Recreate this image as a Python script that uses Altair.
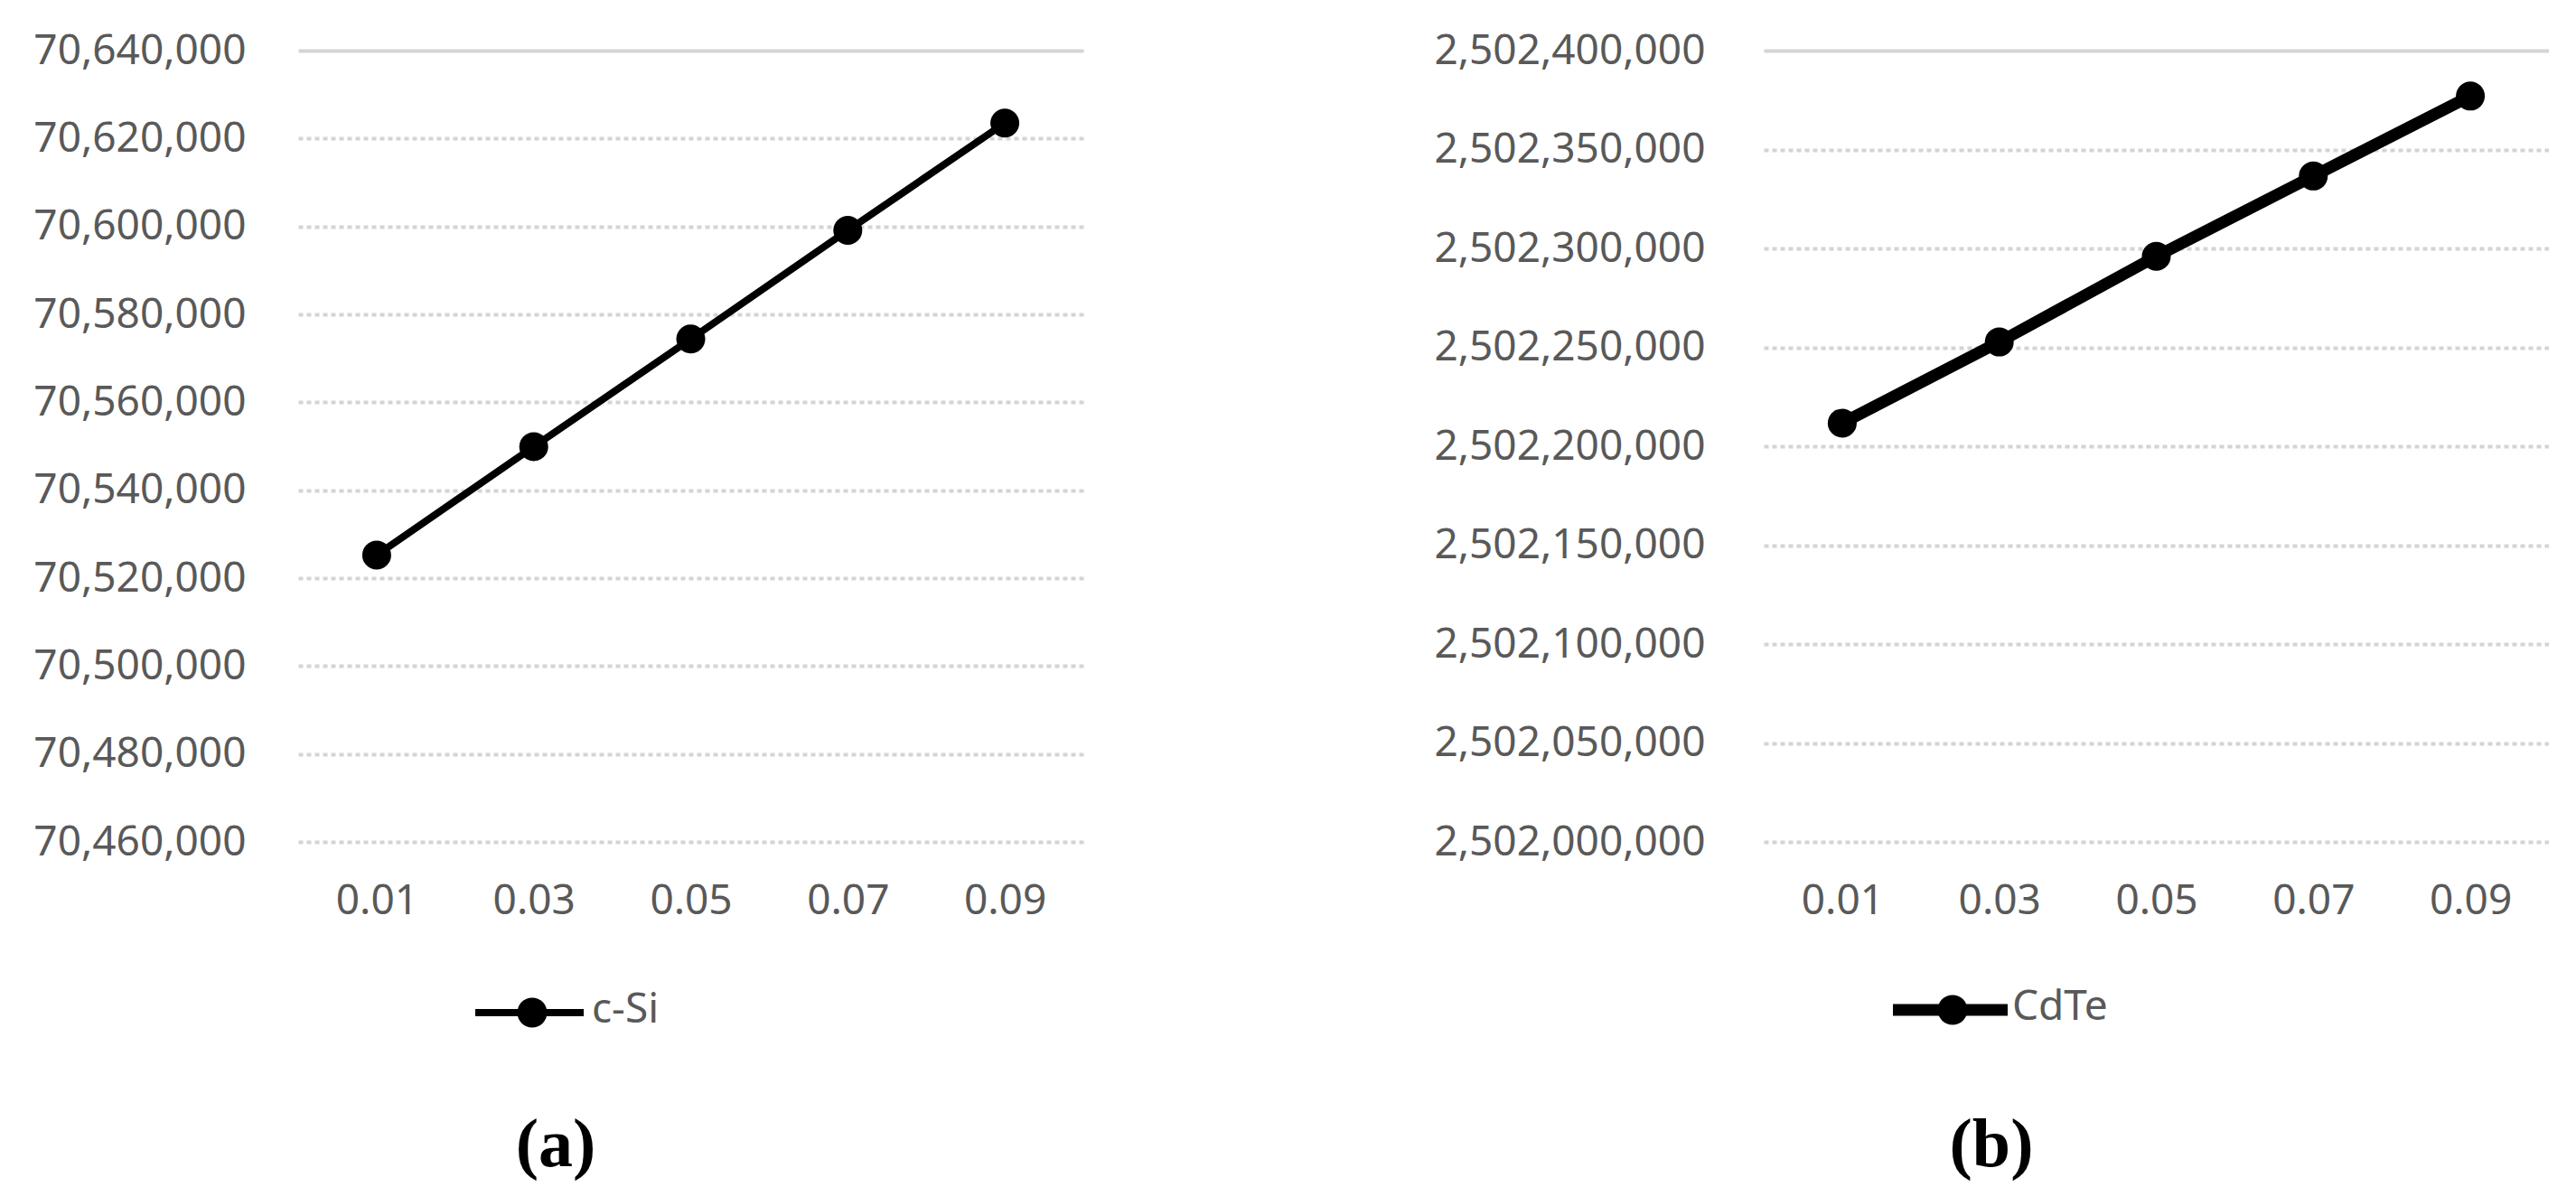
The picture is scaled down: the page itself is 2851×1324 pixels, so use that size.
import altair as alt
import pandas as pd

# ---- data ----
x_labels = ["0.01", "0.03", "0.05", "0.07", "0.09"]
csi_values = [70525250, 70549900, 70574400, 70599100, 70623500]
cdte_values = [2502211700, 2502252700, 2502296000, 2502336600, 2502377000]
csi_ticks = [70460000, 70480000, 70500000, 70520000, 70540000,
             70560000, 70580000, 70600000, 70620000, 70640000]
cdte_ticks = [2502000000, 2502050000, 2502100000, 2502150000, 2502200000,
              2502250000, 2502300000, 2502350000, 2502400000]
series_names = ["c-Si", "CdTe"]
panel_labels = ["(a)", "(b)"]

W, H = 869, 876
LABEL_FONT = "Noto Sans"
LABEL_COLOR = "#595959"
FS = 46


def panel(values, ticks, name, caption, line_w, label_pad, leg):
    df = pd.DataFrame({"x": x_labels, "y": values, "s": name})
    top = ticks[-1]
    x_enc = alt.X("x:N", sort=x_labels,
                  scale=alt.Scale(type="point", padding=0.5),
                  axis=alt.Axis(title=None, ticks=False, domain=False, grid=False,
                                labelAngle=0, labelFont=LABEL_FONT, labelFontSize=FS,
                                labelColor=LABEL_COLOR, labelPadding=43,
                                labelLimit=1000))
    y_enc = alt.Y("y:Q",
                  scale=alt.Scale(domain=[ticks[0], ticks[-1]], zero=False, nice=False),
                  axis=alt.Axis(title=None, ticks=False, domain=False, values=ticks,
                                format=",d", labelFont=LABEL_FONT, labelFontSize=FS,
                                labelColor=LABEL_COLOR, labelPadding=label_pad,
                                labelLimit=1000, labelOverlap=False,
                                gridColor="#d4d4d4", gridWidth=4,
                                gridDash={"condition": {"test": f"datum.value == {top}",
                                                        "value": []},
                                          "value": [5, 4]}))
    base = alt.Chart(df).encode(x=x_enc, y=y_enc)
    line = base.mark_line(color="black", strokeWidth=line_w)
    pts = base.mark_point(filled=True, color="black", size=1024, opacity=1)

    leg_df = pd.DataFrame({"s": [name], "c": [caption]})
    lb = alt.Chart(leg_df)
    leg_line = lb.mark_rule(color="black", strokeWidth=line_w).encode(
        x=alt.value(leg["x1"]), x2=alt.value(leg["x2"]), y=alt.value(leg["y"]))
    leg_pt = lb.mark_point(filled=True, color="black", size=1089, opacity=1).encode(
        x=alt.value(leg["px"]), y=alt.value(leg["y"]))
    leg_txt = lb.mark_text(align="left", baseline="middle", font=LABEL_FONT,
                           fontSize=FS, color=LABEL_COLOR).encode(
        x=alt.value(leg["tx"]), y=alt.value(leg["y"] - 3), text="s:N")
    cap = lb.mark_text(align="center", baseline="middle", font="Liberation Serif",
                       fontSize=76, fontWeight="bold", color="black").encode(
        x=alt.value(leg["cx"]), y=alt.value(1212), text="c:N")
    return alt.layer(line, pts, leg_line, leg_pt, leg_txt, cap).properties(
        width=W, height=H)


left = panel(csi_values, csi_ticks, series_names[0], panel_labels[0], 8, 58,
             {"x1": 196, "x2": 316, "y": 1065, "px": 259, "tx": 325, "cx": 285})
right = panel(cdte_values, cdte_ticks, series_names[1], panel_labels[1], 13, 65,
              {"x1": 143, "x2": 270, "y": 1062, "px": 209, "tx": 275, "cx": 252})

chart = alt.hconcat(left, right, spacing=387).properties(
    padding={"left": 28, "top": 25, "right": 0, "bottom": 14},
    background="white"
).configure_view(strokeWidth=0, stroke="transparent")

chart.save("out.html", embed_options={"renderer": "svg", "actions": False})
